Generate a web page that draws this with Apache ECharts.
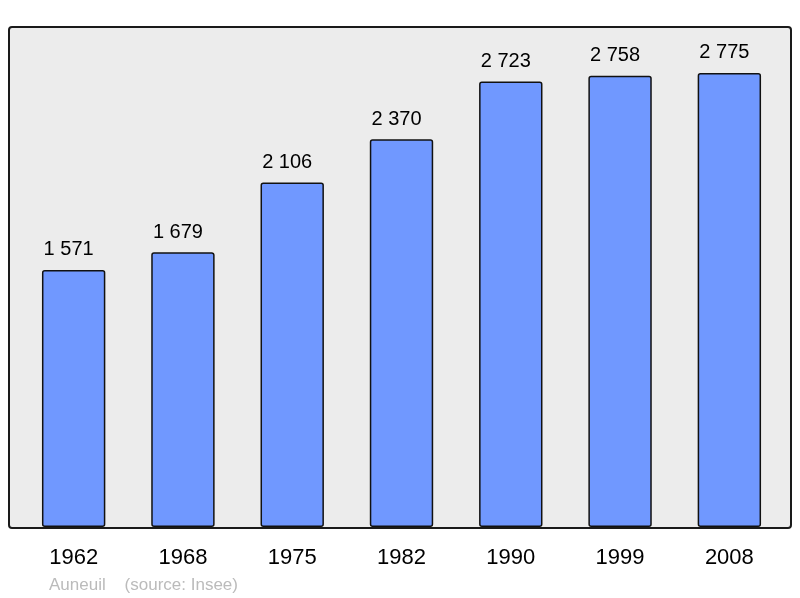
<!DOCTYPE html>
<html><head><meta charset="utf-8">
<script src="https://cdn.jsdelivr.net/npm/echarts@6/dist/echarts.min.js"></script>
<style>html,body{margin:0;padding:0;background:#fff}#c{width:800px;height:598px}</style>
</head><body><div id="c"></div>
<script>
const categories = ['1962','1968','1975','1982','1990','1999','2008'];
const population = [1571, 1679, 2106, 2370, 2723, 2758, 2775];
const caption = 'Auneuil    (source: Insee)';

const fmt = v => String(v).replace(/\B(?=(\d{3})+(?!\d))/g, ' ');
const chart = echarts.init(document.getElementById('c'), null, {renderer:'canvas'});
chart.setOption({
  animation: false,
  backgroundColor: '#ffffff',
  title: {
    text: caption, left: 44, top: 572,
    textStyle: {color: '#bbbbbb', fontSize: 17, fontWeight: 'normal', fontFamily: 'Liberation Sans'}
  },
  graphic: [{
    type: 'rect', z: -10, silent: true,
    shape: {x: 9, y: 27, width: 782, height: 501, r: 3},
    style: {fill: '#ececec', stroke: '#1a1a1a', lineWidth: 2}
  }],
  grid: {left: 19, right: 16, top: 27, bottom: 71, containLabel: false},
  xAxis: {
    type: 'category', data: categories,
    axisLine: {show: false}, axisTick: {show: false},
    axisLabel: {color: '#000', fontSize: 22, fontFamily: 'Liberation Sans', margin: 20}
  },
  yAxis: {
    type: 'value', min: 0, max: 3056,
    axisLine: {show: false}, axisTick: {show: false}, axisLabel: {show: false},
    splitLine: {show: false}
  },
  series: [{
    type: 'bar', data: population, barWidth: '58%',
    itemStyle: {color: '#7098ff', borderColor: '#111', borderWidth: 1.5, borderRadius: 2},
    label: {
      show: true, position: 'top', distance: 10, offset: [-5, 0],
      formatter: p => fmt(p.value),
      color: '#000', fontSize: 20, fontFamily: 'Liberation Sans'
    }
  }]
});
</script></body></html>
